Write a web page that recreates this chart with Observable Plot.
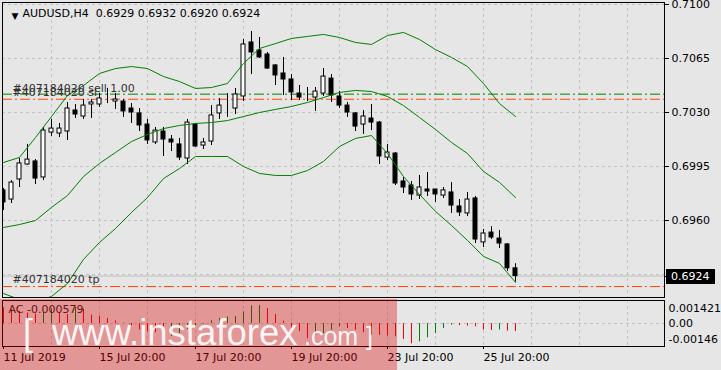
<!DOCTYPE html>
<html><head><meta charset="utf-8">
<script src="https://cdn.jsdelivr.net/npm/d3@7"></script>
<script src="https://cdn.jsdelivr.net/npm/@observablehq/plot@0.6"></script>
<style>
html,body{margin:0;padding:0;}
body{background:#e6e6e6;width:721px;height:370px;overflow:hidden;position:relative;font-family:"DejaVu Sans",sans-serif;}
#main,#sub{position:absolute;left:0;}
#main{top:0;}
#sub{top:299px;}
#wm{position:absolute;left:0;top:299px;width:397px;height:71px;background:rgba(220,0,0,0.35);}
#wmtext{position:absolute;left:0;top:0;}
</style></head><body>
<div id="main"></div><div id="sub"></div><div id="wm"></div>
<svg id="wmtext" width="721" height="370" font-family="Liberation Sans, Arial, sans-serif" fill="rgba(255,255,255,0.92)">
  <text x="23" y="345" font-size="36">[</text>
  <text x="52" y="345" font-size="36.5">www.instaforex</text>
  <text x="304" y="345" font-size="25">.com</text>
  <text x="366" y="345" font-size="25">]</text>
</svg>
<script>
// ---- data ----
const symbol = "AUDUSD,H4";
const orderId = "407184020";
const orderLots = "1.00";
const orderOpen = 0.70419;
const orderSL = 0.70386;
const orderTP = 0.69172;

const opens = [0.69795,0.69736,0.69866,0.69963,0.69983,0.69879,0.70170,0.70164,0.70177,0.70313,
0.70274,0.70352,0.70352,0.70384,0.70371,0.70371,0.70326,0.70294,0.70222,0.70106,
0.70177,0.70125,0.70093,0.70002,0.70222,0.70086,0.70112,0.70294,0.70333,0.70326,
0.70404,0.70754,0.70702,0.70676,0.70605,0.70553,0.70514,0.70423,0.70410,0.70397,
0.70423,0.70520,0.70404,0.70345,0.70294,0.70222,0.70261,0.70235,0.70008,0.70034,
0.69853,0.69827,0.69762,0.69801,0.69801,0.69762,0.69782,0.69691,0.69646,0.69743,
0.69458,0.69522,0.69483,0.69445,0.69290];
const highs = [0.69808,0.69859,0.70002,0.70093,0.69995,0.70203,0.70255,0.70229,0.70365,0.70352,
0.70384,0.70384,0.70423,0.70456,0.70423,0.70384,0.70358,0.70326,0.70255,0.70203,
0.70203,0.70151,0.70132,0.70255,0.70229,0.70132,0.70345,0.70391,0.70423,0.70456,
0.70773,0.70825,0.70786,0.70689,0.70611,0.70657,0.70546,0.70475,0.70462,0.70462,
0.70585,0.70546,0.70436,0.70365,0.70300,0.70313,0.70352,0.70242,0.70093,0.70041,
0.69879,0.69853,0.69892,0.69911,0.69801,0.69814,0.69846,0.69736,0.69782,0.69756,
0.69542,0.69561,0.69535,0.69451,0.69320];
const lows = [0.69665,0.69710,0.69814,0.69957,0.69833,0.69859,0.70145,0.70138,0.70119,0.70261,
0.70255,0.70261,0.70333,0.70358,0.70320,0.70268,0.70229,0.70177,0.70093,0.70093,
0.70015,0.70047,0.69989,0.69963,0.70073,0.70060,0.70086,0.70255,0.70268,0.70287,
0.70371,0.70546,0.70650,0.70579,0.70475,0.70410,0.70378,0.70378,0.70371,0.70307,
0.70404,0.70365,0.70326,0.70268,0.70177,0.70158,0.70183,0.69963,0.69989,0.69827,
0.69775,0.69730,0.69736,0.69756,0.69717,0.69743,0.69646,0.69626,0.69626,0.69451,
0.69425,0.69477,0.69419,0.69270,0.69200];
const closes = [0.69717,0.69846,0.69970,0.69995,0.69872,0.70183,0.70196,0.70196,0.70326,0.70287,
0.70345,0.70365,0.70391,0.70384,0.70384,0.70307,0.70300,0.70216,0.70119,0.70183,
0.70125,0.70106,0.70008,0.70235,0.70080,0.70106,0.70281,0.70345,0.70333,0.70417,
0.70741,0.70689,0.70657,0.70585,0.70540,0.70514,0.70430,0.70397,0.70410,0.70436,
0.70533,0.70410,0.70345,0.70300,0.70209,0.70274,0.70235,0.70015,0.70041,0.69840,
0.69814,0.69769,0.69814,0.69788,0.69769,0.69795,0.69697,0.69652,0.69736,0.69477,
0.69516,0.69490,0.69451,0.69290,0.69240];

const bandIdx = [0,2,4,6,8,10,12,14,16,18,20,22,24,26,28,30,32,34,36,38,40,42,44,46,48,50,52,54,56,58,60,62,64];
const bbUpper = [0.69976,0.70009,0.70138,0.70274,0.70410,0.70475,0.70553,0.70585,0.70598,0.70585,
0.70533,0.70501,0.70456,0.70462,0.70488,0.70618,0.70715,0.70747,0.70780,0.70793,
0.70806,0.70786,0.70754,0.70741,0.70799,0.70819,0.70773,0.70708,0.70657,0.70598,
0.70488,0.70358,0.70274];
const bbMiddle = [0.69555,0.69574,0.69600,0.69685,0.69762,0.69885,0.69970,0.70041,0.70112,0.70158,
0.70196,0.70216,0.70229,0.70235,0.70248,0.70274,0.70300,0.70320,0.70339,0.70365,
0.70397,0.70430,0.70443,0.70436,0.70404,0.70345,0.70268,0.70190,0.70106,0.70034,
0.69918,0.69847,0.69749];
const bbLower = [0.69127,0.69088,0.69069,0.69108,0.69192,0.69348,0.69458,0.69548,0.69652,0.69749,
0.69872,0.69937,0.70015,0.70015,0.70015,0.69950,0.69905,0.69892,0.69892,0.69924,
0.69983,0.70080,0.70132,0.70151,0.70034,0.69885,0.69769,0.69659,0.69568,0.69471,
0.69367,0.69322,0.69199];

const acBefore = 0.00125;
const acValues = [0.00113,0.00100,0.00088,0.00075,0.00068,0.00080,0.00105,0.00080,0.00065,0.00115,
0.00105,0.00060,0.00052,0.00036,0.00018,0.00002,-0.00018,-0.00047,-0.00058,-0.00067,
-0.00108,-0.00094,-0.00072,-0.00043,-0.00020,-0.00005,0.00020,0.00036,0.00047,0.00050,
0.00084,0.00127,0.00130,0.00108,0.00065,0.00017,-0.00048,-0.00060,-0.00110,-0.00084,
-0.00072,-0.00048,-0.00024,-0.00036,-0.00048,-0.00067,-0.00084,-0.00086,-0.00091,-0.00096,
-0.00115,-0.00146,-0.00132,-0.00103,-0.00072,-0.00036,-0.00012,-0.00015,-0.00019,-0.00024,
-0.00047,-0.00050,-0.00046,-0.00055,-0.000579];
const acMaxLabel = "0.001421", acMinLabel = "-0.00146", acZeroLabel = "0.00";
const acMax = 0.001421, acMin = -0.00146;

const gridIdx = [6,12,18,24,30,36,42,48,54,60,66,72,78];
const gridPrices = [0.7100,0.7065,0.7030,0.6995,0.6960,0.6925];
const labelPrices = [0.7100,0.7065,0.7030,0.6995,0.6960];
const dateIdx = [0,12,24,36,48,60];
const dateLabels = ["11 Jul 2019","15 Jul 20:00","17 Jul 20:00","19 Jul 20:00","23 Jul 20:00","25 Jul 20:00"];

// ---- build ----
const candles = opens.map((o,i)=>({k:i,o,h:highs[i],l:lows[i],c:closes[i]}));
const band = arr => bandIdx.map((k,i)=>({k, v:arr[i]}));
const last = candles[candles.length-1];
const f4 = v => v.toFixed(4);
const header = `${symbol}\u00a0\u00a0${f4(last.o)} ${f4(last.h)} ${f4(last.l)} ${f4(last.c)}`;
const GREEN = "#008000", ORANGE = "#ff4500", GRID = "#c4c4c4";
const xDomain = [-0.125, 82.625];
const styleBase = {background:"transparent", fontFamily:"DejaVu Sans, sans-serif", fontSize:"11px", color:"#000", overflow:"visible"};

const main = Plot.plot({
  width:721, height:299, marginLeft:2, marginRight:57, marginTop:2, marginBottom:2,
  style: styleBase,
  x:{domain:xDomain, axis:null, label:null},
  y:{domain:[0.691011, 0.710130], axis:null, label:null},
  marks:[
    Plot.ruleX(gridIdx, {stroke:GRID, strokeDasharray:"3,3"}),
    Plot.ruleY(gridPrices, {stroke:GRID, strokeDasharray:"3,3"}),
    Plot.ruleY([last.c], {stroke:"#c0c0c0"}),
    Plot.ruleY([orderOpen], {stroke:GREEN, strokeDasharray:"10,3,2,3"}),
    Plot.ruleY([orderSL], {stroke:ORANGE, strokeDasharray:"10,3,2,3"}),
    Plot.ruleY([orderTP], {stroke:ORANGE, strokeDasharray:"10,3,2,3"}),
    Plot.ruleX(candles, {x:"k", y1:"l", y2:"h", stroke:"#000", clip:true}),
    Plot.rect(candles, {x1:d=>d.k-0.25, x2:d=>d.k+0.25, y1:"o", y2:"c", fill:d=>d.c>=d.o?"#fff":"#000", stroke:"#000", clip:true}),
    Plot.line(band(bbUpper), {x:"k", y:"v", stroke:GREEN, strokeWidth:1, clip:true}),
    Plot.line(band(bbMiddle), {x:"k", y:"v", stroke:GREEN, strokeWidth:1, clip:true}),
    Plot.line(band(bbLower), {x:"k", y:"v", stroke:GREEN, strokeWidth:1, clip:true}),
    Plot.text([`#${orderId} sell ${orderLots}`], {y:()=>orderOpen, frameAnchor:"left", dx:10, dy:-2, textAnchor:"start", lineAnchor:"bottom", fill:"#333", fontSize:11}),
    Plot.text([`#${orderId} sl`], {y:()=>orderSL, frameAnchor:"left", dx:10, dy:-3, textAnchor:"start", lineAnchor:"bottom", fill:"#333", fontSize:11}),
    Plot.text([`#${orderId} tp`], {y:()=>orderTP, frameAnchor:"left", dx:10, dy:-4, textAnchor:"start", lineAnchor:"bottom", fill:"#333", fontSize:11}),
    Plot.text(["\u25BC"], {frameAnchor:"top-left", dx:9, dy:10, fontSize:9, fill:"#000"}),
    Plot.text([header], {frameAnchor:"top-left", dx:20, dy:7, textAnchor:"start", lineAnchor:"top", fill:"#000", fontSize:11}),
    Plot.axisY(labelPrices, {anchor:"right", tickSize:4, tickPadding:3, tickFormat:f4, fontSize:11, label:null}),
    Plot.frame({stroke:"#000"})
  ]
});
document.getElementById("main").appendChild(main);
{
  const ys = main.scale("y"), xs = main.scale("x");
  const yy = Math.round(ys.apply(last.c));
  const x0 = xs.range[1];
  const g = d3.select(main).append("g");
  g.append("line").attr("x1", x0).attr("x2", x0+4).attr("y1", yy+0.5).attr("y2", yy+0.5).attr("stroke","#000");
  g.append("rect").attr("x", x0+2).attr("y", yy-7).attr("width", 49).attr("height", 15).attr("fill", "#000");
  g.append("text").attr("x", x0+7).attr("y", yy+0.5).attr("dy","0.35em").attr("fill","#fff")
    .attr("text-anchor","start")
    .attr("font-family","DejaVu Sans, sans-serif").attr("font-size",11).text(f4(last.c));
}

const acData = acValues.map((v,i)=>({k:i, v, up: v > (i===0 ? acBefore : acValues[i-1])}));
const lastAC = acValues[acValues.length-1];
const sub = Plot.plot({
  width:721, height:71, marginLeft:2, marginRight:57, marginTop:1, marginBottom:24,
  style: styleBase,
  x:{domain:xDomain, label:null},
  y:{domain:[-0.00166, 0.00166], axis:null, label:null},
  marks:[
    Plot.ruleX(gridIdx, {stroke:GRID, strokeDasharray:"3,3"}),
    Plot.ruleY([0], {stroke:GRID, strokeDasharray:"3,3"}),
    Plot.ruleX(acData, {x:"k", y1:0, y2:"v", stroke:d=>d.up?GREEN:"#ff0000"}),
    Plot.text([`AC ${lastAC.toFixed(6)}`], {frameAnchor:"top-left", dx:6, dy:5, textAnchor:"start", lineAnchor:"top", fill:"#222", fontSize:11}),
    Plot.text([acMaxLabel], {y:()=>acMax, frameAnchor:"right", dx:4, dy:5, textAnchor:"start", fill:"#000", fontSize:11}),
    Plot.text([acZeroLabel], {y:()=>0, frameAnchor:"right", dx:4, textAnchor:"start", fill:"#000", fontSize:11}),
    Plot.text([acMinLabel], {y:()=>acMin, frameAnchor:"right", dx:4, dy:-4, textAnchor:"start", fill:"#000", fontSize:11}),
    Plot.axisX(dateIdx, {anchor:"bottom", tickSize:3, tickPadding:4, textAnchor:"start", tickFormat:d=>dateLabels[dateIdx.indexOf(d)], fontSize:11, label:null}),
    Plot.frame({stroke:"#000"})
  ]
});
document.getElementById("sub").appendChild(sub);
</script>
</body></html>
